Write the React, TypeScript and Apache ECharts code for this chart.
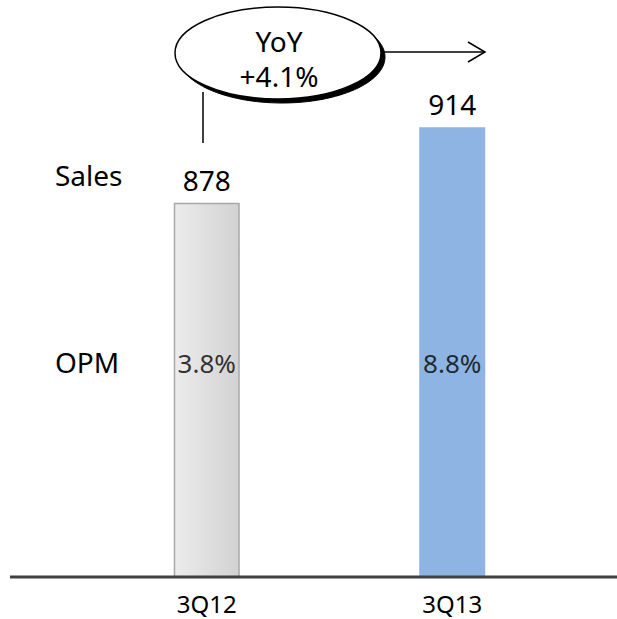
import React, { useEffect, useRef } from "react";
import * as echarts from "echarts";

const categories = ["3Q12", "3Q13"];
const sales = [878, 914];
const opm = ["3.8%", "8.8%"];
const yoyText = ["YoY", "+4.1%"];
const rowLabels = ["Sales", "OPM"];

const FONT = "'Noto Sans', 'Open Sans', sans-serif";

export default function App() {
  const ref = useRef<HTMLDivElement>(null);
  useEffect(() => {
    document.body.style.margin = "0";
    const chart = echarts.init(ref.current!, null, { renderer: "svg" });
    const opmLevel = 802;
    chart.setOption({
      animation: false,
      backgroundColor: "#ffffff",
      grid: { left: 84, right: 42, top: 51.5, bottom: 42 },
      xAxis: {
        type: "category",
        data: categories,
        axisLine: { show: false },
        axisTick: { show: false },
        axisLabel: { fontSize: 24, lineHeight: 24, color: "#000", fontFamily: FONT, margin: 14 },
      },
      yAxis: { type: "value", min: 700, max: 950, show: false, splitLine: { show: false } },
      series: [
        {
          type: "bar",
          barWidth: 66,
          data: sales.map((v, i) => ({
            value: v,
            itemStyle:
              i === 0
                ? {
                    color: new echarts.graphic.LinearGradient(0, 0, 1, 0, [
                      { offset: 0, color: "#ececec" },
                      { offset: 1, color: "#d2d2d2" },
                    ]),
                    borderColor: "#a8a8a8",
                    borderWidth: 1.5,
                  }
                : { color: "#8eb4e3" },
          })),
          label: {
            show: true,
            position: "top",
            distance: 9,
            fontSize: 28,
            color: "#000",
            fontFamily: FONT,
          },
        },
        {
          type: "scatter",
          symbolSize: 0,
          data: opm.map((_, i) => [i, opmLevel]),
          label: {
            show: true,
            position: "inside",
            fontSize: 26,
            color: "#000",
            fontFamily: FONT,
            formatter: (p: any) => opm[p.dataIndex],
          },
          z: 5,
        },
      ],
      graphic: [
        {
          type: "line",
          shape: { x1: 10, y1: 577, x2: 617, y2: 577 },
          style: { stroke: "#404040", lineWidth: 3 },
          z: 100,
        },
        {
          type: "text",
          x: 55,
          y: 175,
          style: { text: rowLabels[0], fontSize: 28, fill: "#000", fontFamily: FONT, verticalAlign: "middle" },
        },
        {
          type: "text",
          x: 55,
          y: 362,
          style: { text: rowLabels[1], fontSize: 28, fill: "#000", fontFamily: FONT, verticalAlign: "middle" },
        },
        {
          type: "line",
          shape: { x1: 203, y1: 92, x2: 203, y2: 143 },
          style: { stroke: "#000", lineWidth: 1.5 },
          z: 10,
        },
        {
          type: "polyline",
          shape: { points: [[380, 52], [485, 52]] },
          style: { stroke: "#000", lineWidth: 1.5, fill: null },
          z: 10,
        },
        {
          type: "polyline",
          shape: { points: [[468, 42], [485, 52], [468, 62]] },
          style: { stroke: "#000", lineWidth: 1.5, fill: null },
          z: 10,
        },
        {
          type: "ellipse",
          shape: { cx: 282, cy: 57, rx: 103, ry: 46 },
          style: { fill: "#000", stroke: "#000", lineWidth: 1 },
          z: 11,
        },
        {
          type: "ellipse",
          shape: { cx: 278, cy: 53, rx: 103, ry: 46 },
          style: { fill: "#fff", stroke: "#000", lineWidth: 1.5 },
          z: 12,
        },
        {
          type: "text",
          x: 279,
          y: 41,
          style: {
            text: yoyText[0],
            fontSize: 28,
            fill: "#000",
            fontFamily: FONT,
            align: "center",
            verticalAlign: "middle",
          },
          z: 13,
        },
        {
          type: "text",
          x: 279,
          y: 76,
          style: {
            text: yoyText[1],
            fontSize: 28,
            fill: "#000",
            fontFamily: FONT,
            align: "center",
            verticalAlign: "middle",
          },
          z: 13,
        },
      ],
    });
    return () => chart.dispose();
  }, []);
  return <div ref={ref} style={{ width: 617, height: 619 }} />;
}
